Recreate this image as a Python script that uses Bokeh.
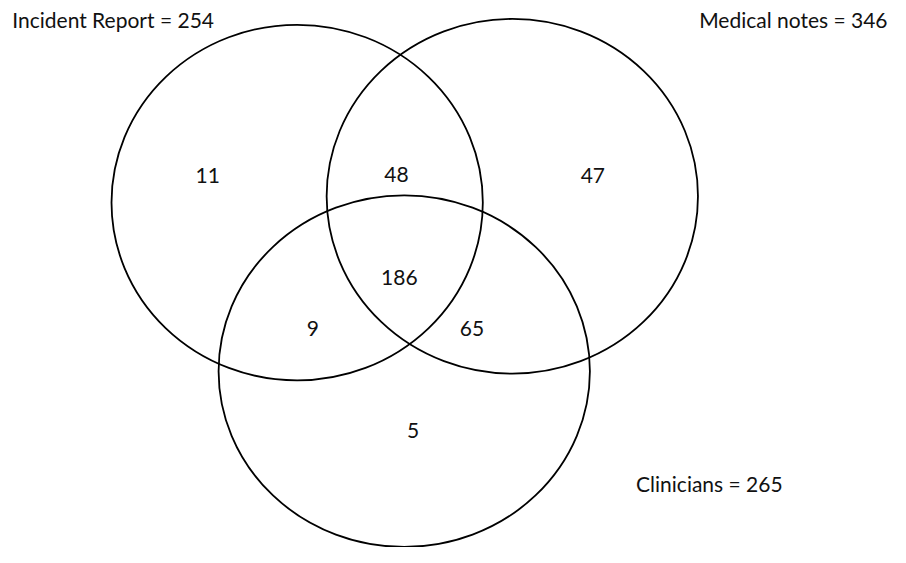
from bokeh.plotting import figure
from bokeh.models import Range1d, ColumnDataSource
from bokeh.core.properties import value
from bokeh.embed import file_html
from bokeh.resources import INLINE

# ---- data ----
set_names = ["Incident Report", "Medical notes", "Clinicians"]
set_totals = [254, 346, 265]
region_names = ["IR only", "IR & MN", "MN only", "all three", "IR & CL", "MN & CL", "CL only"]
region_counts = [11, 48, 47, 186, 9, 65, 5]

# ---- layout (reference pixel frame, y downwards) ----
circle_x = [302, 521, 411]
circle_y = [208, 201.5, 381.5]
circle_w = [378, 378, 378]
circle_h = [366, 365, 362]

region_x = [211, 403, 603, 406, 318, 480, 420]
region_y = [180, 179, 180, 285, 338, 338, 443]

label_x = [12, 903, 647]
label_y = [20, 20, 497]
label_align = ["left", "right", "left"]

FONT = "Lato"
FS = "21px"

p = figure(width=890, height=547, output_backend="svg", toolbar_location=None,
           x_range=Range1d(0, 906), y_range=Range1d(563, 0), min_border=0)
p.axis.visible = False
p.grid.visible = False
p.outline_line_color = None
p.background_fill_color = "white"

p.ellipse(x=circle_x, y=circle_y, width=circle_w, height=circle_h,
          fill_color=None, line_color="black", line_width=1.8)

rsrc = ColumnDataSource(dict(x=region_x, y=region_y, t=[str(c) for c in region_counts]))
p.text(x="x", y="y", text="t", source=rsrc, text_font=value(FONT), text_font_size=FS,
       text_align="center", text_baseline="middle", text_color="#111111")

lsrc = ColumnDataSource(dict(x=label_x, y=label_y,
                             t=[f"{n} = {v}" for n, v in zip(set_names, set_totals)],
                             a=label_align))
p.text(x="x", y="y", text="t", source=lsrc, text_font=value(FONT), text_font_size=FS,
       text_align="a", text_baseline="middle", text_color="#111111")

open("out.html", "w").write(file_html(p, INLINE))
